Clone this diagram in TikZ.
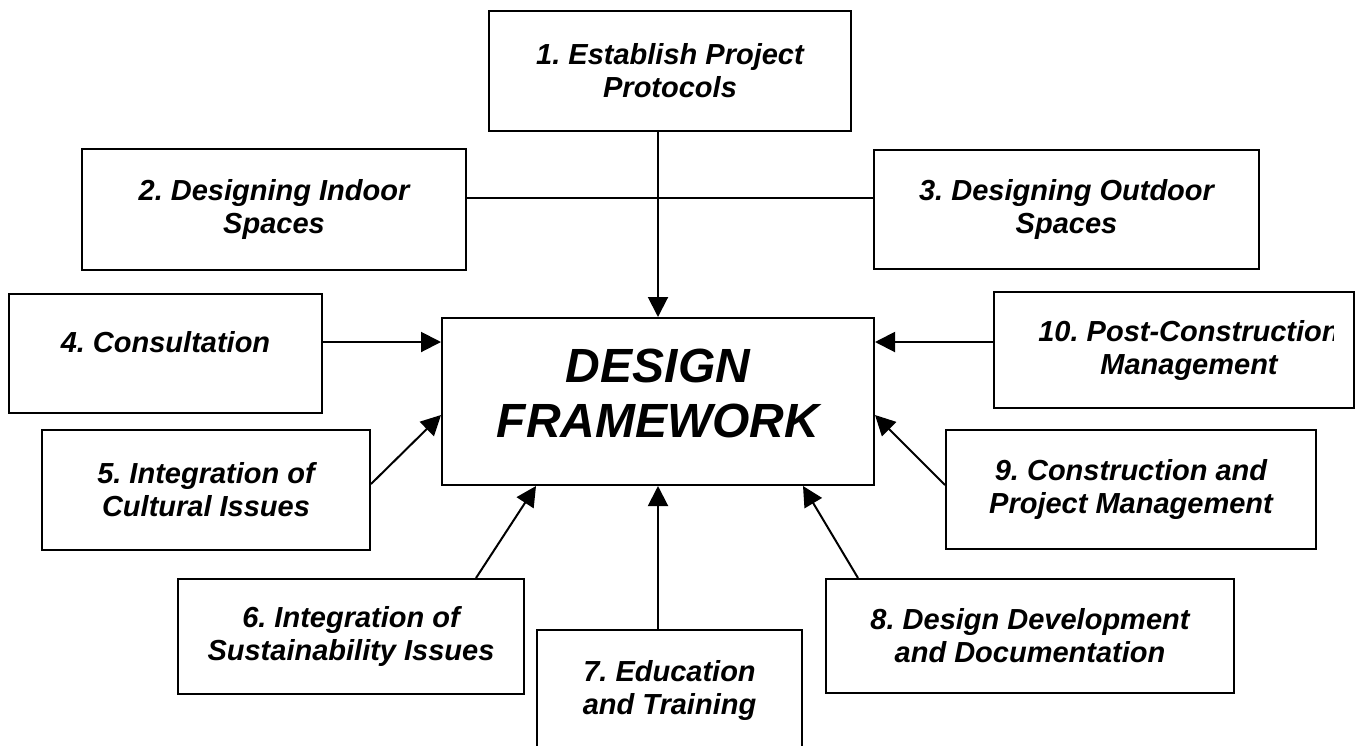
\documentclass[tikz,border=0pt]{standalone}
\usepackage{fontspec}
\setmainfont{Liberation Sans}
\usetikzlibrary{arrows.meta}
\frenchspacing

\begin{document}
\begin{tikzpicture}[x=0.5pt,y=-0.5pt,
  font=\fontsize{14.5}{16.5}\selectfont\bfseries\itshape,
  box/.style={draw,line width=1pt,align=center,inner sep=0pt},
  arr/.style={line width=1pt,-{Triangle[length=10pt,width=10pt]}}]

\useasboundingbox (0,0) rectangle (1359,745);

\node[box,minimum width=216pt,minimum height=83.5pt,text depth=8pt,
  font=\fontsize{24}{27.5}\selectfont\bfseries\itshape] (centre) at (658,401.5) {DESIGN\\FRAMEWORK};

\node[box,minimum width=181pt,minimum height=60pt] (protocols) at (670,71) {1. Establish Project\\Protocols};
\node[box,minimum width=192pt,minimum height=60.5pt] (indoor) at (274,209.5) {2. Designing Indoor\\Spaces};
\node[box,minimum width=192.5pt,minimum height=59.5pt] (outdoor) at (1066.5,209.5) {3. Designing Outdoor\\Spaces};
\node[box,minimum width=156.5pt,minimum height=59.5pt,text height=10.5pt,text depth=12pt] (consult) at (165.5,353.5) {4. Consultation};
\node[box,minimum width=164pt,minimum height=60pt] (cultural) at (206,490) {5. Integration of\\Cultural Issues};
\node[box,minimum width=173pt,minimum height=57.5pt] (sustain) at (351,636.5) {6. Integration of\\Sustainability Issues};
\node[box,minimum width=132.5pt,minimum height=60pt] (training) at (669.5,690) {7. Education\\and Training};
\node[box,minimum width=204pt,minimum height=57pt] (docs) at (1030,636) {8. Design Development\\and Documentation};
\node[box,minimum width=185pt,minimum height=59.5pt] (projmgmt) at (1131,489.5) {9. Construction and\\Project Management};
\node[box,minimum width=180pt,minimum height=58pt] (postcon) at (1174,350) {};

% text of box 10 runs past its margin
\begin{scope}
\clip (postcon.south west) rectangle ([xshift=-11pt]postcon.north east);
\node[align=center,inner sep=0pt] (postcontext) at (1189,350) {10. Post-Construction\\Management};
\end{scope}

\draw[line width=1pt] ([yshift=5.75pt]indoor.east) -- ([yshift=5.75pt]outdoor.west);

\draw[arr] (protocols.south -| centre.north) -- (centre.north);
\draw[arr] ([yshift=5.75pt]consult.east) -- ([yshift=5.75pt]consult.east -| centre.west);
\draw[arr] ([yshift=4pt]postcon.west) -- ([yshift=4pt]postcon.west -| centre.east);
\draw[arr] ([yshift=3pt]cultural.east) -- ([yshift=-6.75pt]centre.west);
\draw[arr] ([yshift=2.25pt]projmgmt.west) -- ([yshift=-6.75pt]centre.east);
\draw[arr] ([xshift=-24.5pt]sustain.north east) -- ([xshift=-61pt]centre.south);
\draw[arr] (centre.south |- training.north) -- (centre.south);
\draw[arr] ([xshift=16.5pt]docs.north west) -- ([xshift=72.5pt]centre.south);
\end{tikzpicture}
\end{document}
